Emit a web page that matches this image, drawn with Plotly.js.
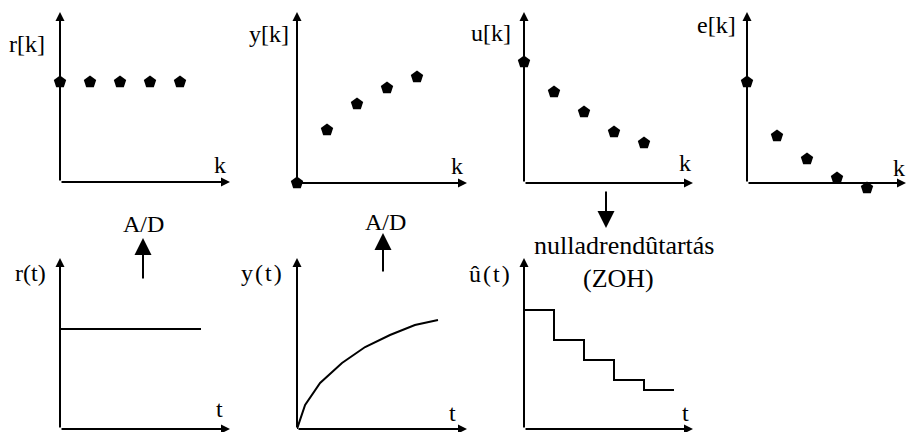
<!DOCTYPE html>
<html>
<head>
<meta charset="utf-8">
<script src="https://cdn.plot.ly/plotly-3.0.1.min.js"></script>
<style>html,body{margin:0;padding:0;background:#fff;}#chart{width:906px;height:432px;}</style>
</head>
<body>
<div id="chart"></div>
<script>
// ---- data ----
const kIdx = [0, 1, 2, 3, 4];
const rK = [1.0, 1.0, 1.0, 1.0, 1.0];
const yK = [0.0, 0.53, 0.79, 0.95, 1.06];
const uK = [1.21, 0.91, 0.71, 0.51, 0.40];
const eK = [1.01, 0.47, 0.24, 0.05, -0.05];

const rT_t = [0, 4.7];
const rT_v = [1.0, 1.0];

const yT_t = [0, 0.27, 0.77, 1.5, 2.27, 3.1, 3.93, 4.7];
const yT_v = [0, 0.24, 0.46, 0.66, 0.82, 0.94, 1.04, 1.09];

const zoh_t = [0, 1, 2, 3, 4, 5];
const zoh_v = [1.19, 0.89, 0.69, 0.49, 0.39, 0.39];

const topLabels = ['r[k]', 'y[k]', 'u[k]', 'e[k]'];
const botLabels = ['r(t)', 'y\u200a(\u200at\u200a)', '\u00fb\u200a(\u200at\u200a)'];

// ---- layout helpers ----
const W = 906, H = 432;
const px = x => x / W;
const py = y => 1 - y / H;
const XU = 30, YU = 100; // pixels per unit
const FONT = "'Liberation Serif', serif";

// panels: [left, right, top, bottom(origin), extra px below origin]
const panels = [
  [60, 230, 12, 182, 0],
  [297, 467, 12, 183, 0],
  [524, 693, 12, 183, 0],
  [747, 906, 12, 183, 12],
  [60, 230, 258, 429, 0],
  [297, 467, 258, 429, 0],
  [524, 693, 258, 429, 0]
];

const layout = {
  width: W, height: H,
  margin: {l: 0, r: 0, t: 0, b: 0},
  paper_bgcolor: '#fff', plot_bgcolor: 'rgba(0,0,0,0)',
  showlegend: false,
  annotations: [],
  font: {family: FONT, color: '#000', size: 24}
};

panels.forEach((p, i) => {
  const n = i === 0 ? '' : String(i + 1);
  const xr = [0, (p[1] - p[0]) / XU];
  const ytop = (p[3] - p[2]) / YU;
  const ybot = -p[4] / YU;
  layout['xaxis' + n] = {domain: [px(p[0]), px(p[1])], range: xr, visible: false, fixedrange: true, anchor: 'y' + n};
  layout['yaxis' + n] = {domain: [py(p[3] + p[4]), py(p[2])], range: [ybot, ytop], visible: false, fixedrange: true, anchor: 'x' + n};
  const xa = 'x' + n, ya = 'y' + n;
  layout.annotations.push({xref: xa, yref: ya, axref: xa, ayref: ya, x: xr[1], y: 0, ax: 0, ay: 0,
    showarrow: true, arrowhead: 2, arrowsize: 0.9, arrowwidth: 2, arrowcolor: '#000', text: '', standoff: 0});
  layout.annotations.push({xref: xa, yref: ya, axref: xa, ayref: ya, x: 0, y: ytop, ax: 0, ay: 0,
    showarrow: true, arrowhead: 2, arrowsize: 0.9, arrowwidth: 2, arrowcolor: '#000', text: '', standoff: 0});
});

function txt(t, x, y, size) {
  layout.annotations.push({xref: 'paper', yref: 'paper', x: px(x), y: py(y), text: t, showarrow: false,
    xanchor: 'center', yanchor: 'middle', font: {family: FONT, size: size || 24, color: '#000'}});
}
function arrow(x, yHead, yTail) {
  layout.annotations.push({xref: 'paper', yref: 'paper', x: px(x), y: py(yHead), ax: 0, ay: yTail - yHead,
    text: '', showarrow: true, arrowhead: 2, arrowsize: 1.7, arrowwidth: 2, arrowcolor: '#000', standoff: 0});
}

txt(topLabels[0], 27, 44);
txt(topLabels[1], 269, 34);
txt(topLabels[2], 491, 33);
txt(topLabels[3], 716, 25);
txt('k', 220, 165); txt('k', 457, 166); txt('k', 685, 163); txt('k', 899, 168);
txt(botLabels[0], 30, 273);
txt(botLabels[1], 261, 273);
txt(botLabels[2], 489, 274);
txt('t', 219, 409); txt('t', 452, 413); txt('t', 685, 413);
txt('A/D', 143, 224);
txt('A/D', 385, 222);
txt('nulladrendûtartás', 624, 245, 26);
txt('(ZOH)', 618, 278, 26);
arrow(143, 238, 280);
arrow(383, 233, 273);
arrow(606, 228, 190);

const mk = {color: '#000', size: 13, symbol: 'pentagon'};
const ln = {color: '#000', width: 2};
const data = [
  {x: kIdx, y: rK, xaxis: 'x', yaxis: 'y', mode: 'markers', marker: mk, cliponaxis: false},
  {x: kIdx, y: yK, xaxis: 'x2', yaxis: 'y2', mode: 'markers', marker: mk, cliponaxis: false},
  {x: kIdx, y: uK, xaxis: 'x3', yaxis: 'y3', mode: 'markers', marker: mk, cliponaxis: false},
  {x: kIdx, y: eK, xaxis: 'x4', yaxis: 'y4', mode: 'markers', marker: mk, cliponaxis: false},
  {x: rT_t, y: rT_v, xaxis: 'x5', yaxis: 'y5', mode: 'lines', line: ln, cliponaxis: false},
  {x: yT_t, y: yT_v, xaxis: 'x6', yaxis: 'y6', mode: 'lines', line: ln, cliponaxis: false},
  {x: zoh_t, y: zoh_v, xaxis: 'x7', yaxis: 'y7', mode: 'lines', line: Object.assign({shape: 'hv'}, ln), cliponaxis: false}
];
data.forEach(d => d.hoverinfo = 'skip');

Plotly.newPlot('chart', data, layout, {staticPlot: true, displayModeBar: false});
</script>
</body>
</html>
